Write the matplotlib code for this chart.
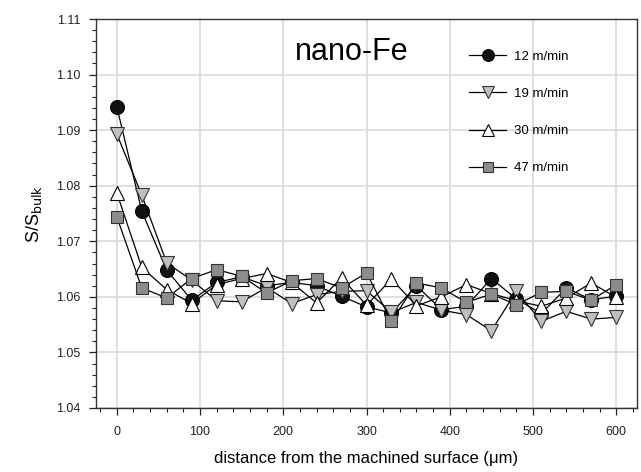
import matplotlib
matplotlib.use('Agg')
import matplotlib.pyplot as plt
from matplotlib.ticker import MultipleLocator

plt.rcParams['font.family'] = ['Liberation Sans', 'DejaVu Sans']

distance = [0, 30, 60, 90, 120, 150, 180, 210, 240, 270, 300,
            330, 360, 390, 420, 450, 480, 510, 540, 570, 600]

s_12 = [1.0942, 1.0754, 1.0648, 1.0594, 1.0626, 1.0636, 1.0620, 1.0626, 1.0620, 1.0601, 1.0582,
        1.0571, 1.0620, 1.0577, 1.0583, 1.0633, 1.0596, 1.0570, 1.0616, 1.0595, 1.0601]
s_19 = [1.0893, 1.0783, 1.0661, 1.0630, 1.0593, 1.0591, 1.0617, 1.0588, 1.0604, 1.0610, 1.0611,
        1.0572, 1.0590, 1.0576, 1.0568, 1.0539, 1.0610, 1.0556, 1.0574, 1.0560, 1.0563]
s_30 = [1.0787, 1.0653, 1.0613, 1.0588, 1.0622, 1.0633, 1.0642, 1.0626, 1.0589, 1.0634, 1.0585,
        1.0632, 1.0584, 1.0600, 1.0622, 1.0606, 1.0593, 1.0583, 1.0598, 1.0625, 1.0599]
s_47 = [1.0744, 1.0616, 1.0598, 1.0633, 1.0649, 1.0637, 1.0607, 1.0629, 1.0633, 1.0616, 1.0643,
        1.0556, 1.0625, 1.0616, 1.0590, 1.0605, 1.0586, 1.0608, 1.0610, 1.0594, 1.0622]

labels = ['12 m/min', '19 m/min', '30 m/min', '47 m/min']

fig = plt.figure(figsize=(6.41, 4.72), dpi=100)
ax = fig.add_axes([0.1498, 0.1356, 0.8440, 0.8241])

ax.plot(distance, s_12, '-o', color='black', lw=0.9, ms=10, mfc='#111111', mec='black', mew=0.8, label=labels[0])
ax.plot(distance, s_19, '-v', color='black', lw=0.9, ms=10, mfc='#bfbfbf', mec='#333333', mew=0.8, label=labels[1])
ax.plot(distance, s_30, '-^', color='black', lw=0.9, ms=10, mfc='white', mec='black', mew=0.8, label=labels[2])
ax.plot(distance, s_47, '-s', color='black', lw=0.9, ms=8.5, mfc='#8c8c8c', mec='#333333', mew=0.8, label=labels[3])

ax.set_xlim(-25, 625)
ax.set_ylim(1.04, 1.11)
ax.xaxis.set_major_locator(MultipleLocator(100))
ax.xaxis.set_minor_locator(MultipleLocator(20))
ax.yaxis.set_major_locator(MultipleLocator(0.01))
ax.yaxis.set_minor_locator(MultipleLocator(0.002))
ax.yaxis.set_major_formatter(plt.FuncFormatter(lambda v, p: f'{v:.2f}'))

ax.tick_params(which='major', direction='out', length=5, width=0.9, labelsize=9, colors='#222222')
ax.tick_params(which='minor', direction='out', length=3, width=0.8, colors='#222222')
ax.tick_params(axis='x', pad=8)
ax.tick_params(axis='y', pad=6)
ax.grid(True, which='major', color='#dcdcdc', lw=1.3)
ax.set_axisbelow(True)
for sp in ax.spines.values():
    sp.set_linewidth(1.0)
    sp.set_color('#333333')

ax.set_xlabel('distance from the machined surface (\u03bcm)', fontsize=12, labelpad=9)
ax.set_ylabel('S/S$_{\\mathrm{bulk}}$', fontsize=13, labelpad=9)
ax.text(0.473, 0.916, 'nano-Fe', transform=ax.transAxes, ha='center', va='center', fontsize=22)

ax.legend(loc='upper left', bbox_to_anchor=(0.668, 0.95), frameon=False, fontsize=9.5,
          labelspacing=1.9, handlelength=2.8, handletextpad=0.6, markerscale=0.85)

fig.savefig('out.png', dpi=100)
